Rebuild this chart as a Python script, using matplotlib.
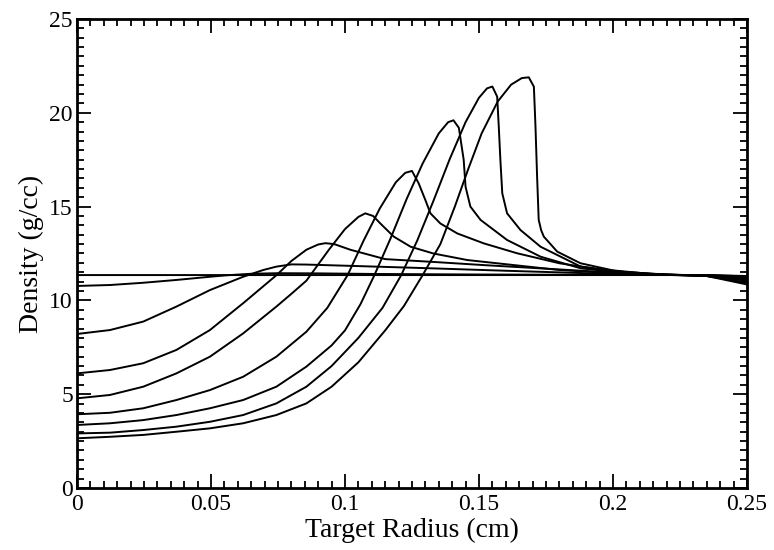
import matplotlib
matplotlib.use('Agg')
import matplotlib.pyplot as plt
from matplotlib.ticker import MultipleLocator

plt.rcParams['font.family'] = ['Liberation Serif', 'DejaVu Serif']

# radius (cm) and density (g/cc) for each time step
r_t0 = [0, 0.235, 0.25]
rho_t0 = [11.35, 11.35, 11.3]

r_t1 = [0, 0.0123, 0.0247, 0.0371, 0.0496, 0.056, 0.065, 0.075, 0.09, 0.11, 0.15, 0.2, 0.235, 0.25]
rho_t1 = [10.77, 10.82, 10.94, 11.09, 11.26, 11.34, 11.42, 11.45, 11.44, 11.41, 11.38, 11.36, 11.35, 11.28]

r_t2 = [0, 0.0123, 0.0247, 0.0371, 0.0496, 0.062, 0.0695, 0.0744, 0.08, 0.0856, 0.1,
        0.13, 0.16, 0.19, 0.22, 0.235, 0.25]
rho_t2 = [8.21, 8.42, 8.87, 9.67, 10.55, 11.26, 11.62, 11.8, 11.92, 11.91, 11.85,
          11.72, 11.58, 11.45, 11.36, 11.34, 11.25]

r_t3 = [0, 0.0123, 0.0247, 0.0371, 0.0496, 0.062, 0.0744, 0.08, 0.0856, 0.09, 0.0927, 0.096,
        0.102, 0.115, 0.133, 0.152, 0.18, 0.2, 0.22, 0.235, 0.25]
rho_t3 = [6.11, 6.29, 6.65, 7.36, 8.42, 9.85, 11.34, 12.1, 12.7, 12.98, 13.05, 13.0,
          12.7, 12.2, 12.05, 11.88, 11.65, 11.48, 11.37, 11.33, 11.2]

r_t4 = [0, 0.0123, 0.0247, 0.0371, 0.0496, 0.062, 0.0744, 0.08, 0.0856, 0.094, 0.1, 0.105,
        0.1076, 0.1105, 0.1132, 0.1182, 0.1245, 0.133, 0.1457, 0.18, 0.2, 0.22, 0.235, 0.25]
rho_t4 = [4.78, 4.96, 5.40, 6.11, 7.0, 8.24, 9.67, 10.35, 11.05, 12.7, 13.8, 14.45,
          14.64, 14.5, 14.1, 13.4, 12.86, 12.5, 12.15, 11.62, 11.45, 11.37, 11.33, 11.15]

r_t5 = [0, 0.0123, 0.0247, 0.0371, 0.0496, 0.062, 0.0744, 0.0856, 0.0934, 0.101, 0.107,
        0.113, 0.119, 0.1225, 0.125, 0.1275, 0.13, 0.1319, 0.1356, 0.1419, 0.1518, 0.1643,
        0.18, 0.2, 0.22, 0.235, 0.25]
rho_t5 = [3.93, 4.01, 4.25, 4.69, 5.22, 5.93, 7.0, 8.33, 9.6, 11.35, 13.2,
          14.9, 16.3, 16.8, 16.9, 16.24, 15.35, 14.64, 14.1, 13.57, 13.04, 12.51,
          11.98, 11.55, 11.38, 11.32, 11.1]

r_t6 = [0, 0.0123, 0.0247, 0.0371, 0.0496, 0.062, 0.0744, 0.0856, 0.095, 0.1, 0.1058, 0.111,
        0.117, 0.123, 0.129, 0.135, 0.1385, 0.1405, 0.1425, 0.1443, 0.145, 0.1468, 0.1506,
        0.1605, 0.173, 0.188, 0.205, 0.22, 0.235, 0.25]
rho_t6 = [3.36, 3.45, 3.62, 3.89, 4.25, 4.69, 5.4, 6.47, 7.6, 8.4, 9.8, 11.35,
          13.3, 15.4, 17.3, 18.9, 19.5, 19.6, 19.2, 17.5, 16.06, 15.0, 14.29,
          13.22, 12.33, 11.71, 11.45, 11.36, 11.3, 11.05]

r_t7 = [0, 0.0123, 0.0247, 0.0371, 0.0496, 0.062, 0.0744, 0.0856, 0.095, 0.105, 0.114, 0.121,
        0.127, 0.133, 0.139, 0.145, 0.15, 0.153, 0.155, 0.1568, 0.1574, 0.158, 0.1587, 0.1605,
        0.1655, 0.173, 0.188, 0.205, 0.22, 0.235, 0.25]
rho_t7 = [2.91, 2.95, 3.09, 3.27, 3.53, 3.89, 4.51, 5.4, 6.5, 8.0, 9.6, 11.35,
          13.2, 15.3, 17.5, 19.5, 20.8, 21.3, 21.4, 20.86, 19.26, 17.48, 15.71, 14.64,
          13.75, 12.86, 11.8, 11.5, 11.37, 11.3, 10.95]

r_t8 = [0, 0.0123, 0.0247, 0.0371, 0.0496, 0.062, 0.0744, 0.0856, 0.095, 0.105, 0.115, 0.122,
        0.129, 0.1356, 0.141, 0.146, 0.151, 0.157, 0.162, 0.166, 0.1686, 0.1705, 0.1711, 0.1717,
        0.1723, 0.1732, 0.1742, 0.1792, 0.1879, 0.2, 0.215, 0.235, 0.25]
rho_t8 = [2.65, 2.73, 2.83, 3.0, 3.18, 3.45, 3.89, 4.51, 5.4, 6.7, 8.4, 9.7,
          11.35, 13.0, 15.0, 17.0, 18.9, 20.6, 21.5, 21.85, 21.89, 21.39, 19.26, 16.6,
          14.29, 13.75, 13.4, 12.6, 11.98, 11.6, 11.4, 11.3, 10.85]

curves = [(r_t0, rho_t0), (r_t1, rho_t1), (r_t2, rho_t2), (r_t3, rho_t3), (r_t4, rho_t4),
          (r_t5, rho_t5), (r_t6, rho_t6), (r_t7, rho_t7), (r_t8, rho_t8)]

fig = plt.figure(figsize=(7.74, 5.5), dpi=100)
ax = fig.add_axes([0.0995, 0.1127, 0.8655, 0.8528])

for r, rho in curves:
    ax.plot(r, rho, color='black', linewidth=1.4)

ax.set_xlim(0, 0.25)
ax.set_ylim(0, 25)
ax.xaxis.set_minor_locator(MultipleLocator(0.005))
ax.yaxis.set_major_locator(MultipleLocator(5))
ax.yaxis.set_minor_locator(MultipleLocator(0.5))
ax.set_xticks([0, 0.05, 0.1, 0.15, 0.2, 0.25])
ax.set_xticklabels(['0', '0.05', '0.1', '0.15', '0.2', '0.25'])

ax.tick_params(which='both', direction='in', top=True, right=True, width=1.3, labelsize=17)
ax.tick_params(which='major', length=10)
ax.tick_params(which='minor', length=5)
ax.tick_params(axis='x', pad=4)
ax.tick_params(axis='y', pad=3)
for s in ax.spines.values():
    s.set_linewidth(2)

ax.set_xlabel('Target Radius (cm)', fontsize=20, labelpad=2)
ax.set_ylabel('Density (g/cc)', fontsize=20, labelpad=4)

fig.savefig('out.png', dpi=100)
